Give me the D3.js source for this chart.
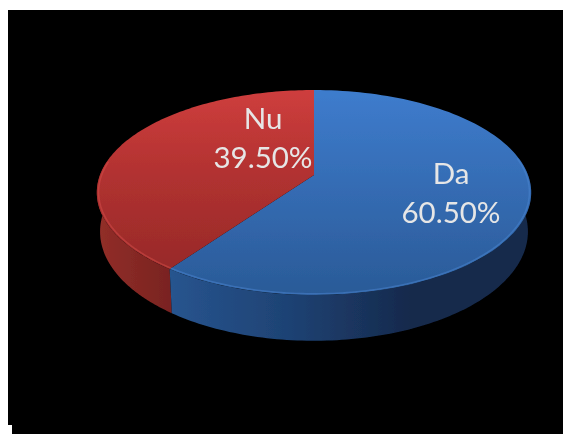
<!DOCTYPE html>
<html>
<head>
<meta charset="utf-8">
<script src="https://cdn.jsdelivr.net/npm/d3@7"></script>
<style>html,body{margin:0;padding:0;background:#fff;overflow:hidden}svg{display:block}</style>
</head>
<body>
<script>
const categories = ["Da", "Nu"];
const shares = [60.5, 39.5];
const valueLabels = ["60.50%", "39.50%"];
const topStops = [["#3e7ccd", "#2a5a97"], ["#ce3e3d", "#b03130", "#982a29"]];
const wallStops = [["#27548e", "#1e4273", "#16294c", "#15294b"], ["#922e29", "#792320"]];
const rimColors = ["#4a86d2", "#d64e49"];

const W = 563, H = 434;
const cx = 314, apexY = 175, A = 214, B = 99.5, persp = 5.86, wallH = 38;

const svg = d3.select("body").append("svg").attr("width", W).attr("height", H);
const defs = svg.append("defs");
defs.append("filter").attr("id", "soft").attr("x", "-5%").attr("y", "-5%").attr("width", "110%").attr("height", "110%")
  .append("feGaussianBlur").attr("stdDeviation", 0.7);

svg.append("rect").attr("width", W).attr("height", H).attr("fill", "#fff");
svg.append("rect").attr("x", 8).attr("y", 10).attr("width", W - 8).attr("height", H - 10).attr("fill", "#000");
svg.append("rect").attr("x", 8).attr("y", 425).attr("width", 4).attr("height", 9).attr("fill", "#fff");

// Pie layout, clockwise from 12 o'clock, in data order.
const arcs = d3.pie().sort(null).value(d => d)(shares);

// Small angular correction for the 3D view, anchored at the slice boundary.
const viewAngle = d3.scaleLinear()
  .domain([0, arcs[0].endAngle, 2 * Math.PI])
  .range([0, arcs[0].endAngle - 0.04, 2 * Math.PI]);

function project(a, r, drop, shrink) {
  const X = Math.sin(a) * r, Y = -Math.cos(a) * r;
  const w = 1 - Y / persp;
  return [cx + shrink * A * X / w, apexY + (B * Y + drop) / w];
}
const samples = (a0, a1) => d3.range(0, 121).map(i => viewAngle(a0 + (a1 - a0) * i / 120));
const line = d3.line();
const g = svg.append("g").attr("filter", "url(#soft)");

arcs.forEach((d, i) => {
  const x = d3.scaleLinear().domain([0, wallStops[i].length - 1]);
  const grad = defs.append("linearGradient").attr("id", "wall" + i)
    .attr("gradientUnits", "userSpaceOnUse")
    .attr("x1", i === 0 ? 171 : 97).attr("x2", i === 0 ? 531 : 171).attr("y1", 0).attr("y2", 0);
  wallStops[i].forEach((c, k) => grad.append("stop").attr("offset", x(k)).attr("stop-color", c));
  const t = defs.append("linearGradient").attr("id", "top" + i)
    .attr("gradientUnits", "userSpaceOnUse").attr("x1", 0).attr("x2", 0)
    .attr("y1", 90).attr("y2", i === 0 ? 296 : 268);
  const tx = d3.scaleLinear().domain([0, topStops[i].length - 1]);
  topStops[i].forEach((c, k) => t.append("stop").attr("offset", tx(k)).attr("stop-color", c));
});

// Outer wall: only the part facing the viewer, red first so blue meets it cleanly.
const frontLimit = Math.PI / 2 - 0.16;
[1, 0].forEach(i => {
  const d = arcs[i];
  const a0 = Math.max(d.startAngle, i === 0 ? frontLimit : 0);
  const a1 = i === 1 ? 2 * Math.PI - frontLimit : d.endAngle;
  const pts = samples(a0, a1);
  const upper = pts.map(a => project(a, 1, 0, 1));
  const lower = pts.map(a => project(a, 1, wallH, 0.985)).reverse();
  g.append("path").attr("d", line(upper.concat(lower)) + "Z").attr("fill", `url(#wall${i})`);
});

// Top faces.
arcs.forEach((d, i) => {
  const rim = samples(d.startAngle, d.endAngle).map(a => project(a, 1, 0, 1));
  g.append("path").attr("d", line([project(0, 0, 0, 1)].concat(rim)) + "Z")
    .attr("fill", `url(#top${i})`);
});

// Bevel highlight on the front rim.
arcs.forEach((d, i) => {
  const a0 = Math.max(d.startAngle, frontLimit);
  const a1 = i === 1 ? 2 * Math.PI - frontLimit : d.endAngle;
  g.append("path").attr("d", line(samples(a0, a1).map(a => project(a, 0.992, 0, 1))))
    .attr("fill", "none").attr("stroke", rimColors[i]).attr("stroke-width", 1.6).attr("stroke-opacity", 0.5);
});

// Data labels.
const labelX = [451, 263];
const nameY = [184, 129];
const valueY = [223, 168];
const tg = svg.append("g").attr("font-family", "Lato, Carlito, sans-serif").attr("font-size", 29.5)
  .attr("text-anchor", "middle").attr("fill", "#e6e6e6").style("filter", "blur(0.5px)");
categories.forEach((c, i) => {
  tg.append("text").attr("x", labelX[i]).attr("y", nameY[i]).text(c);
  tg.append("text").attr("x", labelX[i]).attr("y", valueY[i]).text(valueLabels[i]);
});
</script>
</body>
</html>
